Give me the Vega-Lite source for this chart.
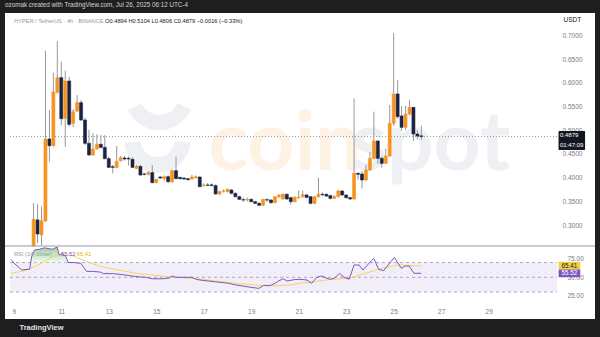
{
  "$schema": "https://vega.github.io/schema/vega-lite/v6.json",
  "width": 590,
  "height": 306,
  "autosize": {"type": "none"},
  "padding": {"left": 5, "top": 13, "right": 5, "bottom": 18},
  "background": "#1e1e1e",
  "config": {"view": {"fill": "#ffffff", "stroke": null}, "font": "Liberation Sans"},
  "title": {"text": "ozomak created with TradingView.com, Jul 26, 2025 06:12 UTC-4", "anchor": "start", "frame": "group", "fontSize": 6.3, "fontWeight": "normal", "color": "#d1d4dc", "offset": 2, "baseline": "middle", "font": "Liberation Sans"},
  "datasets": {
    "candles": [
      {"t":9.833,"o":0.257,"h":0.3477,"l":0.257,"c":0.3133},
      {"t":10.0,"o":0.312,"h":0.3456,"l":0.2633,"c":0.2823},
      {"t":10.167,"o":0.2808,"h":0.340,"l":0.259,"c":0.3104},
      {"t":10.333,"o":0.3097,"h":0.669,"l":0.3076,"c":0.4827},
      {"t":10.5,"o":0.4827,"h":0.5439,"l":0.4348,"c":0.4686},
      {"t":10.667,"o":0.4686,"h":0.6226,"l":0.4665,"c":0.5819},
      {"t":10.833,"o":0.5812,"h":0.6894,"l":0.579,"c":0.6121},
      {"t":11.0,"o":0.6121,"h":0.6459,"l":0.512,"c":0.5256},
      {"t":11.167,"o":0.5263,"h":0.627,"l":0.4665,"c":0.6051},
      {"t":11.333,"o":0.6051,"h":0.614,"l":0.509,"c":0.5136},
      {"t":11.5,"o":0.5158,"h":0.546,"l":0.508,"c":0.5404},
      {"t":11.667,"o":0.5418,"h":0.5755,"l":0.540,"c":0.5594},
      {"t":11.833,"o":0.5594,"h":0.565,"l":0.521,"c":0.5228},
      {"t":12.0,"o":0.5228,"h":0.528,"l":0.470,"c":0.4736},
      {"t":12.167,"o":0.4736,"h":0.502,"l":0.447,"c":0.4490},
      {"t":12.333,"o":0.4490,"h":0.495,"l":0.4475,"c":0.4616},
      {"t":12.5,"o":0.4616,"h":0.493,"l":0.460,"c":0.4715},
      {"t":12.667,"o":0.4715,"h":0.491,"l":0.463,"c":0.4651},
      {"t":12.833,"o":0.4651,"h":0.491,"l":0.440,"c":0.4412},
      {"t":13.0,"o":0.4412,"h":0.4454,"l":0.421,"c":0.4229},
      {"t":13.167,"o":0.4243,"h":0.428,"l":0.410,"c":0.4229},
      {"t":13.333,"o":0.4229,"h":0.468,"l":0.421,"c":0.4349},
      {"t":13.5,"o":0.4370,"h":0.447,"l":0.435,"c":0.4433},
      {"t":13.667,"o":0.4426,"h":0.447,"l":0.437,"c":0.4405},
      {"t":13.833,"o":0.4419,"h":0.446,"l":0.427,"c":0.4405},
      {"t":14.0,"o":0.4398,"h":0.444,"l":0.422,"c":0.4229},
      {"t":14.167,"o":0.4208,"h":0.428,"l":0.419,"c":0.4250},
      {"t":14.333,"o":0.4250,"h":0.428,"l":0.405,"c":0.4068},
      {"t":14.5,"o":0.4089,"h":0.411,"l":0.406,"c":0.4082},
      {"t":14.667,"o":0.4082,"h":0.414,"l":0.406,"c":0.4124},
      {"t":14.833,"o":0.4117,"h":0.428,"l":0.389,"c":0.3906},
      {"t":15.0,"o":0.3906,"h":0.399,"l":0.389,"c":0.3976},
      {"t":15.167,"o":0.4025,"h":0.404,"l":0.398,"c":0.4004},
      {"t":15.333,"o":0.3990,"h":0.406,"l":0.395,"c":0.4032},
      {"t":15.5,"o":0.4032,"h":0.406,"l":0.390,"c":0.3927},
      {"t":15.667,"o":0.3927,"h":0.418,"l":0.390,"c":0.4159},
      {"t":15.833,"o":0.4159,"h":0.4454,"l":0.398,"c":0.3990},
      {"t":16.0,"o":0.4018,"h":0.403,"l":0.397,"c":0.3990},
      {"t":16.167,"o":0.4004,"h":0.402,"l":0.396,"c":0.3983},
      {"t":16.333,"o":0.3990,"h":0.400,"l":0.395,"c":0.3969},
      {"t":16.5,"o":0.3983,"h":0.407,"l":0.397,"c":0.4025},
      {"t":16.667,"o":0.4011,"h":0.406,"l":0.399,"c":0.4032},
      {"t":16.833,"o":0.4025,"h":0.404,"l":0.381,"c":0.3821},
      {"t":17.0,"o":0.3850,"h":0.389,"l":0.382,"c":0.3857},
      {"t":17.167,"o":0.3857,"h":0.390,"l":0.383,"c":0.3850},
      {"t":17.333,"o":0.3860,"h":0.389,"l":0.383,"c":0.3845},
      {"t":17.5,"o":0.3843,"h":0.387,"l":0.365,"c":0.3667},
      {"t":17.667,"o":0.3667,"h":0.374,"l":0.364,"c":0.3716},
      {"t":17.833,"o":0.3725,"h":0.376,"l":0.370,"c":0.3730},
      {"t":18.0,"o":0.3716,"h":0.378,"l":0.370,"c":0.3766},
      {"t":18.167,"o":0.3751,"h":0.377,"l":0.366,"c":0.3681},
      {"t":18.333,"o":0.3681,"h":0.370,"l":0.360,"c":0.3610},
      {"t":18.5,"o":0.3610,"h":0.363,"l":0.354,"c":0.3554},
      {"t":18.667,"o":0.3545,"h":0.359,"l":0.350,"c":0.3540},
      {"t":18.833,"o":0.3540,"h":0.359,"l":0.351,"c":0.3554},
      {"t":19.0,"o":0.3554,"h":0.357,"l":0.349,"c":0.3505},
      {"t":19.167,"o":0.3505,"h":0.352,"l":0.345,"c":0.3470},
      {"t":19.333,"o":0.3470,"h":0.349,"l":0.341,"c":0.3428},
      {"t":19.5,"o":0.3428,"h":0.356,"l":0.341,"c":0.3554},
      {"t":19.667,"o":0.3545,"h":0.358,"l":0.350,"c":0.3540},
      {"t":19.833,"o":0.3540,"h":0.356,"l":0.346,"c":0.3484},
      {"t":20.0,"o":0.3484,"h":0.362,"l":0.347,"c":0.3610},
      {"t":20.167,"o":0.3610,"h":0.366,"l":0.358,"c":0.3646},
      {"t":20.333,"o":0.3561,"h":0.368,"l":0.355,"c":0.3660},
      {"t":20.5,"o":0.3660,"h":0.368,"l":0.354,"c":0.3561},
      {"t":20.667,"o":0.3589,"h":0.361,"l":0.344,"c":0.3505},
      {"t":20.833,"o":0.3505,"h":0.362,"l":0.349,"c":0.3596},
      {"t":21.0,"o":0.3589,"h":0.374,"l":0.356,"c":0.3596},
      {"t":21.167,"o":0.3610,"h":0.3737,"l":0.359,"c":0.3653},
      {"t":21.333,"o":0.3646,"h":0.367,"l":0.357,"c":0.3596},
      {"t":21.5,"o":0.3610,"h":0.362,"l":0.345,"c":0.3470},
      {"t":21.667,"o":0.3470,"h":0.362,"l":0.345,"c":0.3610},
      {"t":21.833,"o":0.3610,"h":0.4011,"l":0.359,"c":0.3660},
      {"t":22.0,"o":0.3660,"h":0.370,"l":0.362,"c":0.3650},
      {"t":22.167,"o":0.3660,"h":0.368,"l":0.360,"c":0.3624},
      {"t":22.333,"o":0.3632,"h":0.365,"l":0.355,"c":0.3575},
      {"t":22.5,"o":0.3575,"h":0.364,"l":0.356,"c":0.3610},
      {"t":22.667,"o":0.3610,"h":0.376,"l":0.359,"c":0.3730},
      {"t":22.833,"o":0.3730,"h":0.375,"l":0.362,"c":0.3646},
      {"t":23.0,"o":0.3646,"h":0.366,"l":0.357,"c":0.3589},
      {"t":23.167,"o":0.3589,"h":0.361,"l":0.355,"c":0.3561},
      {"t":23.333,"o":0.3561,"h":0.5685,"l":0.355,"c":0.4103},
      {"t":23.5,"o":0.4103,"h":0.412,"l":0.397,"c":0.4082},
      {"t":23.667,"o":0.4089,"h":0.415,"l":0.378,"c":0.3962},
      {"t":23.833,"o":0.3962,"h":0.428,"l":0.394,"c":0.4173},
      {"t":24.0,"o":0.4173,"h":0.455,"l":0.415,"c":0.4419},
      {"t":24.167,"o":0.4419,"h":0.5404,"l":0.440,"c":0.4785},
      {"t":24.333,"o":0.4785,"h":0.480,"l":0.430,"c":0.4419},
      {"t":24.5,"o":0.4419,"h":0.446,"l":0.422,"c":0.4314},
      {"t":24.667,"o":0.4314,"h":0.462,"l":0.430,"c":0.4468},
      {"t":24.833,"o":0.4468,"h":0.5544,"l":0.445,"c":0.5158},
      {"t":25.0,"o":0.5158,"h":0.706,"l":0.510,"c":0.5777},
      {"t":25.167,"o":0.5777,"h":0.607,"l":0.525,"c":0.5298},
      {"t":25.333,"o":0.5313,"h":0.5523,"l":0.500,"c":0.5073},
      {"t":25.5,"o":0.5073,"h":0.5523,"l":0.502,"c":0.5354},
      {"t":25.667,"o":0.5354,"h":0.5650,"l":0.532,"c":0.5495},
      {"t":25.833,"o":0.5495,"h":0.550,"l":0.4785,"c":0.4933},
      {"t":26.0,"o":0.4933,"h":0.502,"l":0.482,"c":0.4890},
      {"t":26.167,"o":0.4894,"h":0.5104,"l":0.4806,"c":0.4879}
    ],
    "rsi": [
      {"t":8.881,"v":74},{"t":9.047,"v":68},{"t":9.336,"v":60},{"t":9.668,"v":61},{"t":9.751,"v":78},
      {"t":9.875,"v":87},{"t":10.082,"v":88},{"t":10.289,"v":90},{"t":10.62,"v":88},{"t":10.827,"v":91},
      {"t":10.91,"v":80},{"t":11.034,"v":82},{"t":11.2,"v":78},{"t":11.283,"v":70},{"t":11.531,"v":70},
      {"t":11.821,"v":69},{"t":12.069,"v":58},{"t":12.359,"v":58},{"t":12.649,"v":57},{"t":12.773,"v":55},
      {"t":13.187,"v":55},{"t":13.726,"v":53},{"t":14.14,"v":51},{"t":14.554,"v":50},{"t":14.844,"v":48},
      {"t":15.258,"v":48},{"t":15.548,"v":49},{"t":15.672,"v":52},{"t":15.796,"v":50},{"t":16.5,"v":50},
      {"t":16.707,"v":47},{"t":16.914,"v":46},{"t":17.452,"v":44},{"t":18.032,"v":42},{"t":18.281,"v":40},
      {"t":18.86,"v":37},{"t":19.316,"v":35},{"t":19.523,"v":39},{"t":19.813,"v":39},{"t":20.02,"v":42},
      {"t":20.145,"v":45},{"t":20.352,"v":48},{"t":20.518,"v":45},{"t":20.849,"v":47},{"t":21.056,"v":47.3},
      {"t":21.346,"v":46.3},{"t":21.551,"v":41.9},{"t":21.759,"v":50},{"t":21.966,"v":51.8},{"t":22.297,"v":47.3},
      {"t":22.504,"v":48.6},{"t":22.712,"v":55.4},{"t":22.918,"v":50},{"t":23.125,"v":47.3},{"t":23.332,"v":66.7},
      {"t":23.54,"v":66.7},{"t":23.705,"v":59.9},{"t":24.161,"v":75.8},{"t":24.368,"v":60.8},{"t":24.575,"v":59},
      {"t":25.031,"v":77.1},{"t":25.321,"v":62.2},{"t":25.486,"v":65.3},{"t":25.652,"v":65.3},{"t":25.859,"v":55.4},
      {"t":26.167,"v":55.52}
    ],
    "rsihigh": [
      {"t":9.72,"v":70},{"t":9.751,"v":78},{"t":9.875,"v":87},{"t":10.082,"v":88},{"t":10.289,"v":90},
      {"t":10.62,"v":88},{"t":10.827,"v":91},{"t":10.91,"v":80},{"t":11.034,"v":82},{"t":11.2,"v":78},{"t":11.283,"v":70}
    ],
    "rsima": [
      {"t":8.881,"v":55.4},{"t":9.461,"v":59},{"t":10.011,"v":66.7},{"t":10.703,"v":78.9},{"t":11.394,"v":80.2},
      {"t":12.082,"v":71.2},{"t":12.773,"v":63.6},{"t":14.152,"v":55.4},{"t":15.535,"v":50.8},{"t":16.914,"v":47.3},
      {"t":18.293,"v":41.9},{"t":19.676,"v":38.2},{"t":20.641,"v":39.6},{"t":21.056,"v":41.9},{"t":22.434,"v":47.3},
      {"t":23.125,"v":48.6},{"t":23.817,"v":55.4},{"t":24.504,"v":62.2},{"t":25.196,"v":66.7},{"t":26.167,"v":65.41}
    ],
    "levels": [{"lv":70},{"lv":50},{"lv":30}],
    "pticks": [{"p":0.30},{"p":0.35},{"p":0.40},{"p":0.45},{"p":0.50},{"p":0.55},{"p":0.60},{"p":0.65},{"p":0.70}]
  },
  "layer": [
    {
      "layer": [
        {
          "data": {"values": [{}]},
          "mark": {"type": "text", "text": "coin", "font": "Lato", "fontSize": 82, "fontWeight": "bold", "align": "left", "baseline": "alphabetic", "color": "#fdf2e3"},
          "encoding": {
            "x": {"datum": 17.2, "type": "quantitative", "scale": {"domain": [8.8395, 33.2701], "nice": false, "zero": false},
              "axis": {"orient": "bottom", "values": [9, 11, 13, 15, 17, 19, 21, 23, 25, 27, 29], "format": "d", "labelPadding": -11, "tickSize": 0, "ticks": false, "domain": false, "grid": false, "labelOverlap": false, "labelColor": "#787b86", "labelFontSize": 6.5, "labelBaseline": "top", "title": "TradingView", "titleX": 14, "titleY": 8, "titleAlign": "left", "titleAnchor": "start", "titleBaseline": "middle", "titleColor": "#e0e3eb", "titleFontSize": 7.5, "titleFontWeight": "bold"}},
            "y": {"datum": 0.4173, "type": "quantitative", "scale": {"domain": [0.10295, 0.74852], "nice": false, "zero": false}, "axis": null}
          }
        },
        {
          "data": {"values": [{}]},
          "mark": {"type": "text", "text": "spot", "font": "Lato", "fontSize": 82, "fontWeight": "bold", "align": "left", "baseline": "alphabetic", "color": "#eff0f3"},
          "encoding": {"x": {"datum": 23.2, "type": "quantitative"}, "y": {"datum": 0.4173, "type": "quantitative"}}
        },
        {
          "data": {"values": [{}]},
          "mark": {"type": "arc", "radius": 35, "radius2": 20, "theta": 2.0, "theta2": 4.28, "color": "#eff0f3"},
          "encoding": {"x": {"datum": 15.134, "type": "quantitative"}, "y": {"datum": 0.5755, "type": "quantitative"}}
        },
        {
          "data": {"values": [{}]},
          "mark": {"type": "arc", "radius": 33, "radius2": 17, "theta": 1.65, "theta2": 4.63, "color": "#eff0f3"},
          "encoding": {"x": {"datum": 15.051, "type": "quantitative"}, "y": {"datum": 0.4806, "type": "quantitative"}}
        },
        {
          "data": {"name": "pticks"},
          "mark": {"type": "text", "fontSize": 6.5, "color": "#787b86", "align": "left", "baseline": "middle"},
          "encoding": {"x": {"datum": 32.111, "type": "quantitative"}, "y": {"field": "p", "type": "quantitative"}, "text": {"field": "p", "type": "quantitative", "format": ".4f"}}
        },
        {
          "data": {"values": [{}]},
          "mark": {"type": "text", "text": "USDT", "fontSize": 6.5, "color": "#131722", "align": "center", "baseline": "middle"},
          "encoding": {"x": {"datum": 32.525, "type": "quantitative"}, "y": {"datum": 0.7338, "type": "quantitative"}}
        },
        {
          "data": {"values": [{}]},
          "mark": {"type": "rule", "strokeDash": [1, 2], "color": "#9598a1", "strokeWidth": 1},
          "encoding": {"x": {"datum": 8.8395, "type": "quantitative"}, "x2": {"datum": 31.95}, "y": {"datum": 0.4879, "type": "quantitative"}}
        },
        {
          "data": {"name": "candles"},
          "mark": {"type": "rule", "color": "#9598a1", "strokeWidth": 1},
          "encoding": {
            "x": {"field": "t", "type": "quantitative"},
            "y": {"field": "l", "type": "quantitative"},
            "y2": {"field": "h"}
          }
        },
        {
          "data": {"name": "candles"},
          "mark": {"type": "bar", "width": 3, "strokeWidth": 0.6},
          "encoding": {
            "x": {"field": "t", "type": "quantitative"},
            "y": {"field": "o", "type": "quantitative"},
            "y2": {"field": "c"},
            "color": {"condition": {"test": "datum.c >= datum.o", "value": "#f7931e"}, "value": "#1b2340"},
            "stroke": {"condition": {"test": "datum.c >= datum.o", "value": "#f7931e"}, "value": "#1b2340"}
          }
        },
        {
          "data": {"values": [{}]},
          "mark": {"type": "rule", "color": "#9598a1", "strokeWidth": 1},
          "encoding": {"y": {"datum": 0.257, "type": "quantitative"}}
        },
        {
          "data": {"values": [{}]},
          "mark": {"type": "rect", "color": "#131722", "cornerRadius": 1},
          "encoding": {"x": {"datum": 31.945, "type": "quantitative"}, "x2": {"datum": 33.063}, "y": {"datum": 0.4996, "type": "quantitative"}, "y2": {"datum": 0.4595}}
        },
        {
          "data": {"values": [{}]},
          "mark": {"type": "text", "text": "0.4879", "fontSize": 6, "color": "#ffffff", "align": "left", "baseline": "middle"},
          "encoding": {"x": {"datum": 32.007, "type": "quantitative"}, "y": {"datum": 0.4915, "type": "quantitative"}}
        },
        {
          "data": {"values": [{}]},
          "mark": {"type": "text", "text": "01:47:09", "fontSize": 6, "color": "#ffffff", "align": "left", "baseline": "middle"},
          "encoding": {"x": {"datum": 32.007, "type": "quantitative"}, "y": {"datum": 0.4695, "type": "quantitative"}}
        },
        {
          "data": {"values": [{}]},
          "mark": {"type": "text", "text": "HYPER / TetherUS · 4h · BINANCE", "fontSize": 5.7, "color": "#9598a1", "align": "left", "baseline": "middle"},
          "encoding": {"x": {"datum": 9.005, "type": "quantitative"}, "y": {"datum": 0.7316, "type": "quantitative"}}
        },
        {
          "data": {"values": [{}]},
          "mark": {"type": "text", "text": "O0.4894  H0.5104  L0.4806  C0.4879  −0.0016 (−0.33%)", "fontSize": 5.7, "color": "#131722", "align": "left", "baseline": "middle"},
          "encoding": {"x": {"datum": 12.844, "type": "quantitative"}, "y": {"datum": 0.7316, "type": "quantitative"}}
        }
      ]
    },
    {
      "layer": [
        {
          "data": {"values": [{}]},
          "mark": {"type": "rect", "color": "#7e57c2", "opacity": 0.1},
          "encoding": {
            "x": {"datum": 8.8395, "type": "quantitative"}, "x2": {"datum": 31.883},
            "y": {"datum": 70, "type": "quantitative", "scale": {"domain": [-6.54, 408.37], "nice": false, "zero": false}, "axis": {"orient": "right", "values": [25, 50, 75], "format": ".2f", "labelPadding": -28, "tickSize": 0, "ticks": false, "domain": false, "grid": false, "labelOverlap": false, "title": null, "labelColor": "#787b86", "labelFontSize": 6.5, "labelAlign": "left", "labelBaseline": "middle"}},
            "y2": {"datum": 30}
          }
        },
        {
          "data": {"name": "levels"},
          "mark": {"type": "rule", "color": "#9598a1", "strokeDash": [3, 3], "strokeWidth": 0.8},
          "encoding": {"x": {"datum": 8.8395, "type": "quantitative"}, "x2": {"datum": 31.883}, "y": {"field": "lv", "type": "quantitative"}}
        },
        {
          "data": {"name": "rsihigh"},
          "mark": {"type": "area", "opacity": 0.55, "color": {"gradient": "linear", "x1": 0, "y1": 0, "x2": 0, "y2": 1, "stops": [{"offset": 0, "color": "#4caf50"}, {"offset": 1, "color": "#e8f5e9"}]}},
          "encoding": {"x": {"field": "t", "type": "quantitative"}, "y": {"field": "v", "type": "quantitative"}, "y2": {"datum": 70}}
        },
        {
          "data": {"name": "rsima"},
          "mark": {"type": "line", "color": "#f5d45a", "strokeWidth": 1},
          "encoding": {"x": {"field": "t", "type": "quantitative"}, "y": {"field": "v", "type": "quantitative"}}
        },
        {
          "data": {"name": "rsi"},
          "mark": {"type": "line", "color": "#7e57c2", "strokeWidth": 1},
          "encoding": {"x": {"field": "t", "type": "quantitative"}, "y": {"field": "v", "type": "quantitative"}}
        },
        {
          "data": {"values": [{}]},
          "mark": {"type": "rect", "color": "#7e57c2", "cornerRadius": 1},
          "encoding": {"x": {"datum": 31.945, "type": "quantitative"}, "x2": {"datum": 32.86}, "y": {"datum": 60.9, "type": "quantitative"}, "y2": {"datum": 50.1}}
        },
        {
          "data": {"values": [{}]},
          "mark": {"type": "rect", "color": "#f5d142", "cornerRadius": 1},
          "encoding": {"x": {"datum": 31.945, "type": "quantitative"}, "x2": {"datum": 32.86}, "y": {"datum": 71.0, "type": "quantitative"}, "y2": {"datum": 60.9}}
        },
        {
          "data": {"values": [{}]},
          "mark": {"type": "text", "text": "65.41", "fontSize": 6.3, "color": "#131722", "align": "left", "baseline": "middle"},
          "encoding": {"x": {"datum": 32.07, "type": "quantitative"}, "y": {"datum": 65.9, "type": "quantitative"}}
        },
        {
          "data": {"values": [{}]},
          "mark": {"type": "text", "text": "55.52", "fontSize": 6.3, "color": "#ffffff", "align": "left", "baseline": "middle"},
          "encoding": {"x": {"datum": 32.07, "type": "quantitative"}, "y": {"datum": 55.5, "type": "quantitative"}}
        },
        {
          "data": {"values": [{}]},
          "mark": {"type": "text", "text": "RSI (14, close)", "fontSize": 5.7, "color": "#9598a1", "align": "left", "baseline": "middle"},
          "encoding": {"x": {"datum": 9.005, "type": "quantitative"}, "y": {"datum": 81.6, "type": "quantitative"}}
        },
        {
          "data": {"values": [{}]},
          "mark": {"type": "text", "text": "55.52", "fontSize": 5.7, "color": "#7e57c2", "align": "left", "baseline": "middle"},
          "encoding": {"x": {"datum": 10.993, "type": "quantitative"}, "y": {"datum": 81.6, "type": "quantitative"}}
        },
        {
          "data": {"values": [{}]},
          "mark": {"type": "text", "text": "65.41", "fontSize": 5.7, "color": "#e0b400", "align": "left", "baseline": "middle"},
          "encoding": {"x": {"datum": 11.655, "type": "quantitative"}, "y": {"datum": 81.6, "type": "quantitative"}}
        }
      ]
    }
  ],
  "resolve": {"scale": {"y": "independent"}}
}
